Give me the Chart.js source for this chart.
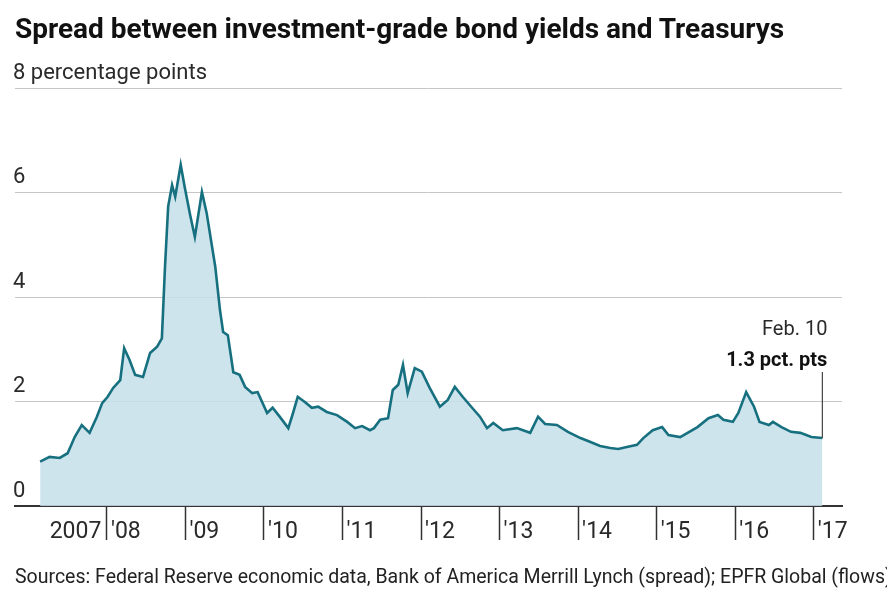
<!DOCTYPE html>
<html lang="en">
<head>
    <meta charset="UTF-8">
    <title>Spread between investment-grade bond yields and Treasurys</title>
    <style>
        body { margin: 0; background: #fff; }
        .wrap { position: relative; width: 887px; height: 593px; overflow: hidden; font-family: Roboto, "Noto Sans", sans-serif; }
        .wrap canvas { position: absolute; left: 0; top: 0; }
        .title { position: absolute; left: 15px; top: 12px; margin: 0; font-size: 28px; font-weight: 700; color: #111; white-space: nowrap; }
        .source { position: absolute; left: 15px; top: 565px; margin: 0; font-size: 19.5px; color: #222; white-space: nowrap; }
    </style>
</head>
<body>
    <div class="wrap">
        <canvas id="spreadChart" width="887" height="593"></canvas>
        <h1 class="title">Spread between investment-grade bond yields and Treasurys</h1>
        <p class="source">Sources: Federal Reserve economic data, Bank of America Merrill Lynch (spread); EPFR Global (flows)</p>
    </div>
    <script src="https://cdn.jsdelivr.net/npm/chart.js"></script>
    <script>
        // weekly-ish readings, decimal years
        const dates = [
            2007.15, 2007.27, 2007.40, 2007.50, 2007.59, 2007.68, 2007.78, 2007.87, 2007.94,
            2008.01, 2008.08, 2008.17, 2008.22, 2008.29, 2008.36, 2008.46, 2008.55, 2008.64, 2008.70,
            2008.74, 2008.78, 2008.83, 2008.87, 2008.94, 2008.99,
            2009.06, 2009.12, 2009.21, 2009.27, 2009.38, 2009.44, 2009.48, 2009.54, 2009.61, 2009.69,
            2009.76, 2009.85, 2009.92,
            2010.04, 2010.11, 2010.20, 2010.31, 2010.37, 2010.43, 2010.52, 2010.61, 2010.69, 2010.80, 2010.93,
            2011.06, 2011.16, 2011.25, 2011.35, 2011.40, 2011.48, 2011.58, 2011.64, 2011.71, 2011.77,
            2011.83, 2011.92,
            2012.01, 2012.11, 2012.24, 2012.34, 2012.43, 2012.53, 2012.65, 2012.75, 2012.84, 2012.92,
            2013.04, 2013.22, 2013.39, 2013.49, 2013.58, 2013.73, 2013.87,
            2014.03, 2014.15, 2014.28, 2014.41, 2014.51, 2014.62, 2014.75, 2014.83, 2014.95,
            2015.07, 2015.15, 2015.30, 2015.52, 2015.66, 2015.78, 2015.85, 2015.97,
            2016.04, 2016.14, 2016.24, 2016.31, 2016.43, 2016.48, 2016.59, 2016.71, 2016.83, 2016.97,
            2017.11
        ];
        // spread, percentage points
        const spread = [
            0.85, 0.94, 0.92, 1.01, 1.32, 1.55, 1.40, 1.70, 1.97,
            2.09, 2.26, 2.41, 3.02, 2.79, 2.51, 2.47, 2.93, 3.05, 3.21,
            4.58, 5.73, 6.14, 5.92, 6.53, 6.11,
            5.57, 5.15, 6.01, 5.61, 4.58, 3.75, 3.33, 3.27, 2.56, 2.51,
            2.28, 2.16, 2.18,
            1.78, 1.88, 1.71, 1.49, 1.78, 2.09, 1.99, 1.88, 1.90, 1.80, 1.74,
            1.61, 1.49, 1.53, 1.45, 1.49, 1.65, 1.68, 2.22, 2.32, 2.70,
            2.16, 2.64,
            2.57, 2.26, 1.90, 2.03, 2.28, 2.09, 1.88, 1.71, 1.49, 1.59,
            1.45, 1.49, 1.40, 1.71, 1.57, 1.55, 1.42,
            1.30, 1.23, 1.15, 1.11, 1.09, 1.13, 1.17, 1.30, 1.45,
            1.51, 1.36, 1.32, 1.51, 1.68, 1.74, 1.65, 1.61,
            1.78, 2.18, 1.90, 1.61, 1.55, 1.61, 1.51, 1.42, 1.40, 1.32,
            1.30
        ];

        // x-axis: first entry only carries the "2007" text, no tick mark
        const tickYears = [2007.22, 2008, 2009, 2010, 2011, 2012, 2013, 2014, 2015, 2016, 2017];
        const tickLabels = ['2007', "'08", "'09", "'10", "'11", "'12", "'13", "'14", "'15", "'16", "'17"];
        const yTicks = [0, 2, 4, 6, 8];

        const lastLabel = ['Feb. 10', '1.3 pct. pts'];

        const lineColor = '#17707f';
        const fillColor = 'rgba(196, 223, 234, 0.85)';
        const textColor = '#2a2a2a';
        const fontFamily = 'Roboto, "Noto Sans", sans-serif';

        // callout over the latest reading
        const lastPointNote = {
            id: 'lastPointNote',
            afterDatasetsDraw(chart) {
                const { ctx, scales } = chart;
                const i = dates.length - 1;
                const px = scales.x.getPixelForValue(dates[i]);
                const py = scales.y.getPixelForValue(spread[i]);
                ctx.save();
                ctx.strokeStyle = '#444';
                ctx.lineWidth = 1.2;
                ctx.beginPath();
                ctx.moveTo(px, py);
                ctx.lineTo(px, py - 66);
                ctx.stroke();
                ctx.fillStyle = textColor;
                ctx.textAlign = 'right';
                ctx.textBaseline = 'middle';
                ctx.font = '20px ' + fontFamily;
                ctx.fillText(lastLabel[0], px + 5, py - 108);
                ctx.fillStyle = '#111';
                ctx.font = 'bold 20px ' + fontFamily;
                ctx.fillText(lastLabel[1], px + 5, py - 77);
                ctx.restore();
            }
        };

        const ctx = document.getElementById('spreadChart').getContext('2d');
        const spreadChart = new Chart(ctx, {
            type: 'line',
            data: {
                datasets: [{
                    data: dates.map((d, i) => ({ x: d, y: spread[i] })),
                    borderColor: lineColor,
                    borderWidth: 2.6,
                    backgroundColor: fillColor,
                    fill: 'origin',
                    pointRadius: 0,
                    tension: 0
                }]
            },
            options: {
                responsive: false,
                animation: false,
                layout: { padding: { left: 15, right: 45, top: 88, bottom: 37 } },
                plugins: {
                    legend: { display: false },
                    tooltip: { enabled: false }
                },
                scales: {
                    x: {
                        type: 'linear',
                        min: 2006.83,
                        max: 2017.36,
                        afterBuildTicks: s => { s.ticks = tickYears.map(v => ({ value: v })); },
                        afterFit: s => { s.height = 50; },
                        border: { display: true, color: '#333', width: 2 },
                        grid: {
                            drawOnChartArea: false,
                            drawTicks: true,
                            tickLength: 34,
                            tickWidth: 1.5,
                            tickColor: c => c.index === 0 ? 'rgba(0,0,0,0)' : '#333'
                        },
                        ticks: {
                            autoSkip: false,
                            maxRotation: 0,
                            align: 'start',
                            labelOffset: 4,
                            padding: -22,
                            color: textColor,
                            font: { family: fontFamily, size: 23 },
                            callback: (v, i) => tickLabels[i]
                        }
                    },
                    y: {
                        min: 0,
                        max: 8,
                        afterBuildTicks: s => { s.ticks = yTicks.map(v => ({ value: v })); },
                        afterFit: s => { s.width = 0; },
                        border: { display: false },
                        grid: {
                            drawTicks: false,
                            color: c => c.tick.value === 0 ? 'rgba(0,0,0,0)' : '#c6c6c6',
                            lineWidth: 1
                        },
                        ticks: {
                            mirror: true,
                            padding: -2,
                            labelOffset: -15,
                            color: textColor,
                            font: { family: fontFamily, size: 22 },
                            callback: v => v === 8 ? '8 percentage points' : v
                        }
                    }
                }
            },
            plugins: [lastPointNote]
        });
    </script>
</body>
</html>
